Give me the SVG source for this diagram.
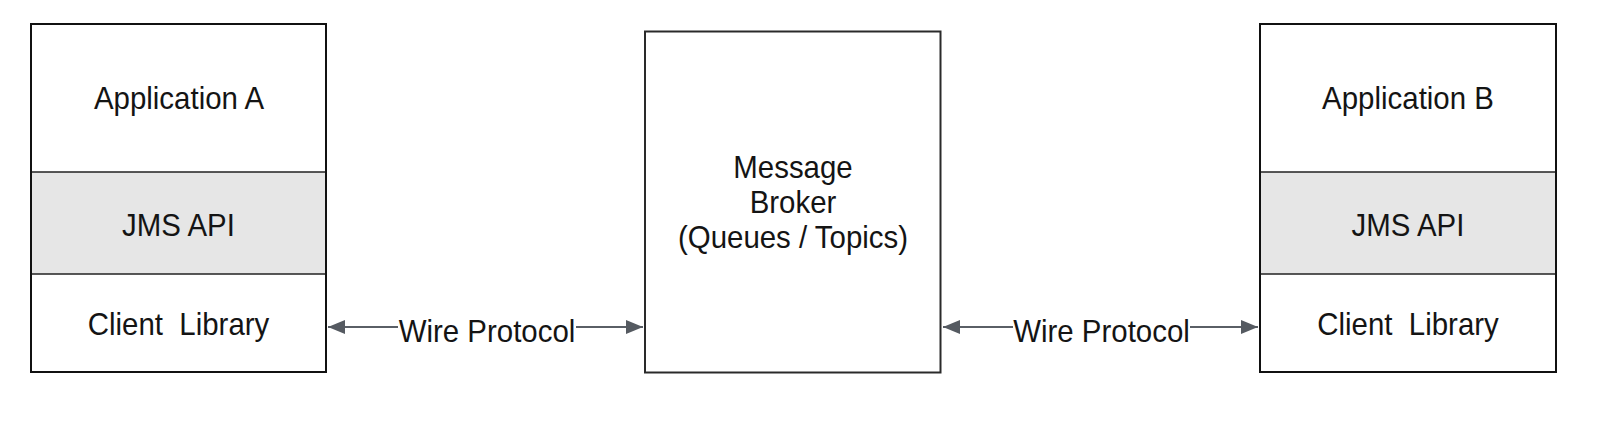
<svg xmlns="http://www.w3.org/2000/svg" width="1612" height="424" viewBox="0 0 1612 424">
<defs>
<style>
.box{fill:none;stroke:#111111;stroke-width:2}
.api{fill:#e6e6e6;stroke:#222222;stroke-width:1.5}
.broker{fill:#ffffff;stroke:#2a2a2a;stroke-width:2}
.lbl{font-family:"Liberation Sans",Arial,Helvetica,sans-serif;font-size:32px;fill:#141414;text-anchor:middle;white-space:pre}
.wire{stroke:#5a5f66;stroke-width:2;fill:none}
</style>
<marker id="ah" viewBox="0 0 17 14" markerWidth="17" markerHeight="14" refX="17" refY="7" orient="auto-start-reverse" markerUnits="userSpaceOnUse">
<path d="M0,0 L17,7 L0,14 z" fill="#555a61"/>
</marker>
</defs>
<rect width="1612" height="424" fill="#ffffff"/>

<g id="appA">
<rect x="31" y="24" width="295" height="348" fill="#ffffff"/>
<rect class="api" x="31" y="172" width="295" height="102"/>
<rect class="box" x="31" y="24" width="295" height="348"/>
<text class="lbl" transform="translate(179,109) scale(0.92,1)">Application A</text>
<text class="lbl" transform="translate(178.5,236) scale(0.92,1)">JMS API</text>
<text class="lbl" xml:space="preserve" transform="translate(178.5,335) scale(0.92,1)">Client  Library</text>
</g>

<g id="broker">
<rect class="broker" x="645" y="31.5" width="295.5" height="341"/>
<text class="lbl" transform="translate(793,177.5) scale(0.92,1)">Message</text>
<text class="lbl" transform="translate(793,212.5) scale(0.92,1)">Broker</text>
<text class="lbl" transform="translate(793,247.5) scale(0.92,1)">(Queues / Topics)</text>
</g>

<g id="appB">
<rect x="1260" y="24" width="296" height="348" fill="#ffffff"/>
<rect class="api" x="1260" y="172" width="296" height="102"/>
<rect class="box" x="1260" y="24" width="296" height="348"/>
<text class="lbl" transform="translate(1408,109) scale(0.92,1)">Application B</text>
<text class="lbl" transform="translate(1408,236) scale(0.92,1)">JMS API</text>
<text class="lbl" xml:space="preserve" transform="translate(1408,335) scale(0.92,1)">Client  Library</text>
</g>

<g id="connectors">
<line class="wire" x1="398" y1="327" x2="328" y2="327" marker-end="url(#ah)"/>
<line class="wire" x1="576" y1="327" x2="643" y2="327" marker-end="url(#ah)"/>
<text class="lbl" transform="translate(487,341.5) scale(0.92,1)">Wire Protocol</text>
<line class="wire" x1="1013" y1="327" x2="943" y2="327" marker-end="url(#ah)"/>
<line class="wire" x1="1190" y1="327" x2="1258" y2="327" marker-end="url(#ah)"/>
<text class="lbl" transform="translate(1101.5,341.5) scale(0.92,1)">Wire Protocol</text>
</g>
</svg>
